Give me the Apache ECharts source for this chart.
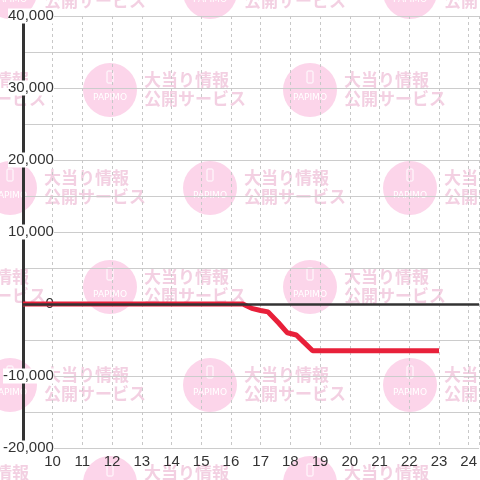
<!DOCTYPE html>
<html>
<head>
<meta charset="utf-8">
<script src="https://cdn.jsdelivr.net/npm/echarts@6/dist/echarts.min.js"></script>
<style>
  html, body { margin: 0; padding: 0; background: #fff; }
  #chart { width: 480px; height: 480px; }
</style>
</head>
<body>
<div id="chart"></div>
<script>
// games (x, in thousands) and balance (y)
const xValues = [9, 16.4, 16.7, 17.0, 17.25, 17.6, 17.9, 18.2, 18.45, 18.75, 23];
const yValues = [0, 0, -600, -900, -1100, -2600, -4000, -4300, -5300, -6500, -6500];
const xTicks = [10, 11, 12, 13, 14, 15, 16, 17, 18, 19, 20, 21, 22, 23, 24];
const yTicks = [-20000, -10000, 0, 10000, 20000, 30000, 40000];

// watermark background (decoration only)
function watermarks() {
  const items = [];
  const rows = [-8, 90, 188, 287, 385, 483];
  rows.forEach((cy, r) => {
    const start = r % 2 === 0 ? -190 : -90;
    for (let cx = start; cx < 600; cx += 200) {
      items.push({
        type: "circle", z: -10, silent: true,
        shape: { cx: cx, cy: cy, r: 27 },
        style: { fill: "#fcd5ea" }
      });
      items.push({
        type: "rect", z: -9, silent: true,
        shape: { x: cx - 3, y: cy - 19, width: 6, height: 12, r: 1 },
        style: { fill: "none", stroke: "#fff", lineWidth: 1 }
      });
      items.push({
        type: "text", z: -9, silent: true,
        x: cx, y: cy + 8,
        style: {
          text: "PAPIMO", fill: "#fff", font: "9px 'DejaVu Sans'",
          align: "center", verticalAlign: "middle"
        }
      });
      items.push({
        type: "text", z: -9, silent: true,
        x: cx + 34, y: cy - 10,
        style: {
          text: "大当り情報", fill: "#f3d0e2",
          font: "bold 17px 'Noto Sans CJK JP'", verticalAlign: "middle"
        }
      });
      items.push({
        type: "text", z: -9, silent: true,
        x: cx + 34, y: cy + 9,
        style: {
          text: "公開サービス", fill: "#f3d0e2",
          font: "bold 17px 'Noto Sans CJK JP'", verticalAlign: "middle"
        }
      });
    }
  });
  return items;
}

const chart = echarts.init(document.getElementById("chart"));
chart.setOption({
  backgroundColor: "#fff",
  animation: false,
  graphic: watermarks(),
  grid: { left: 21, right: 0, top: 16, bottom: 32 },
  xAxis: {
    type: "value",
    min: 9,
    max: 24.35,
    interval: 1,
    axisLine: { show: false },
    axisTick: { show: false },
    axisLabel: {
      showMinLabel: false,
      showMaxLabel: false,
      color: "#333",
      fontSize: 15,
      fontFamily: "Liberation Sans",
      margin: 6,
      formatter: v => (xTicks.indexOf(v) >= 0 ? String(v) : "")
    },
    splitLine: {
      show: true,
      lineStyle: { color: "#c8c8c8", type: [3, 3], width: 1 }
    }
  },
  yAxis: {
    type: "value",
    min: yTicks[0],
    max: yTicks[yTicks.length - 1],
    interval: 10000,
    axisLine: { show: true, lineStyle: { color: "#333", width: 3 } },
    axisTick: { show: false },
    minorTick: { show: false, splitNumber: 2 },
    minorSplitLine: { show: true, lineStyle: { color: "#cccccc", width: 1 } },
    splitLine: { show: true, lineStyle: { color: "#cccccc", width: 1 } },
    axisLabel: {
      color: "#333",
      fontSize: 15,
      fontFamily: "Liberation Sans",
      margin: -31,
      backgroundColor: "#fff",
      formatter: v => v.toLocaleString("en-US")
    }
  },
  series: [
    {
      type: "line",
      z: 1,
      data: [],
      markLine: {
        silent: true,
        symbol: "none",
        label: { show: false },
        lineStyle: { color: "#333", width: 2.5, type: "solid" },
        data: [{ yAxis: 0 }]
      }
    },
    {
      type: "line",
      z: 3,
      data: xValues.map((x, i) => [x, yValues[i]]),
      showSymbol: false,
      lineStyle: { color: "#e8203a", width: 5 },
      itemStyle: { color: "#e8203a" }
    }
  ]
});
</script>
</body>
</html>
